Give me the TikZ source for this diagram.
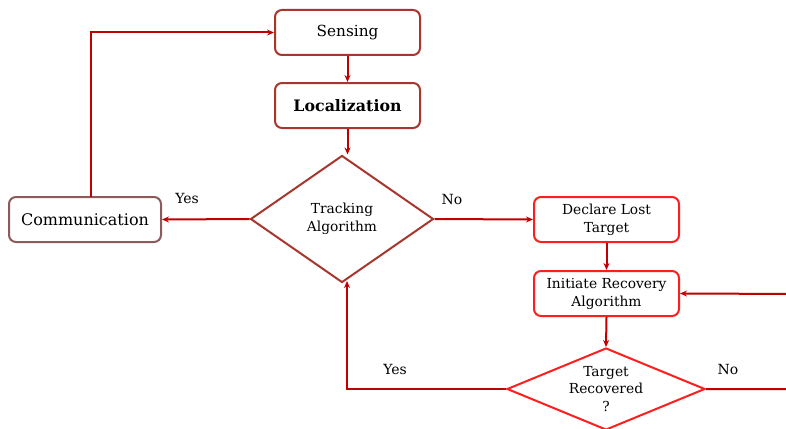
\documentclass[tikz,border=0pt]{standalone}
\usepackage{fontspec}
\setmainfont{DejaVu Serif}
\usetikzlibrary{shapes.geometric,arrows.meta,calc}
\definecolor{arrred}{RGB}{192,0,0}
\definecolor{darkbox}{RGB}{165,55,45}
\definecolor{commbox}{RGB}{140,90,90}
\definecolor{brightred}{RGB}{255,30,30}
\tikzset{
  box/.style={draw=darkbox, line width=2pt, rounded corners=7pt, minimum width=145pt, minimum height=45pt, inner sep=0pt, align=center, fill=white},
  redbox/.style={box, draw=brightred},
  dia/.style={draw=darkbox, line width=2pt, shape=diamond, inner sep=0pt, align=center},
  arr/.style={draw=arrred, line width=2pt, -{Stealth[length=7pt,width=6pt]}},
  lbl/.style={font=\fontsize{14}{16}\selectfont, inner sep=0pt},
  small/.style={font=\fontsize{13.8}{18}\selectfont}
}
\begin{document}
\begin{tikzpicture}[x=1pt,y=-1pt]
\path[use as bounding box] (0,0) rectangle (786,428);
\clip (0,0) rectangle (786,428);
\node[box, font=\fontsize{15.3}{18}\selectfont] (sens) at (347.5,32.5) {Sensing};
\node[box, font=\fontsize{15.8}{18}\selectfont\bfseries] (loc) at (347.5,105.5) {Localization};
\node[dia, small, minimum width=183pt, minimum height=127pt] (track) at (342,219) {Tracking\\Algorithm};
\node[box, draw=commbox, minimum width=152pt, font=\fontsize{16}{18}\selectfont] (comm) at (85,219.5) {Communication};
\node[redbox, small] (decl) at (606.5,219.5) {Declare Lost\\Target};
\node[redbox, small] (init) at (606.5,293.5) {Initiate Recovery\\Algorithm};
\node[dia, small, draw=brightred, aspect=2.4, minimum width=198pt, minimum height=82pt, font=\fontsize{13.8}{17.5}\selectfont] (rec) at (606,389) {Target\\Recovered\\?};
\coordinate (trb) at (347,281);
\coordinate (loopc) at (800,294);
\coordinate (commtop) at (91,197);
\node[lbl] (yes1) at (187,198) {Yes};
\node[lbl] (no1) at (452,199) {No};
\node[lbl] (yes2) at (395,369) {Yes};
\node[lbl] (no2) at (728,369) {No};
\draw[arr] (sens.south) -- (loc.north);
\draw[arr] (loc.south) -- (loc.south |- track.north);
\draw[arr] (track.west) -- (comm.east);
\draw[arr] (commtop) |- (sens.west);
\draw[arr] (track.east) -- (decl.west);
\draw[arr] (decl.south) -- (init.north);
\draw[arr] (init.south) -- (rec.north);
\draw[arr] (rec.west) -| (trb);
\draw[arr] (rec.east) -| (loopc) -- (init.east);
\end{tikzpicture}
\end{document}
